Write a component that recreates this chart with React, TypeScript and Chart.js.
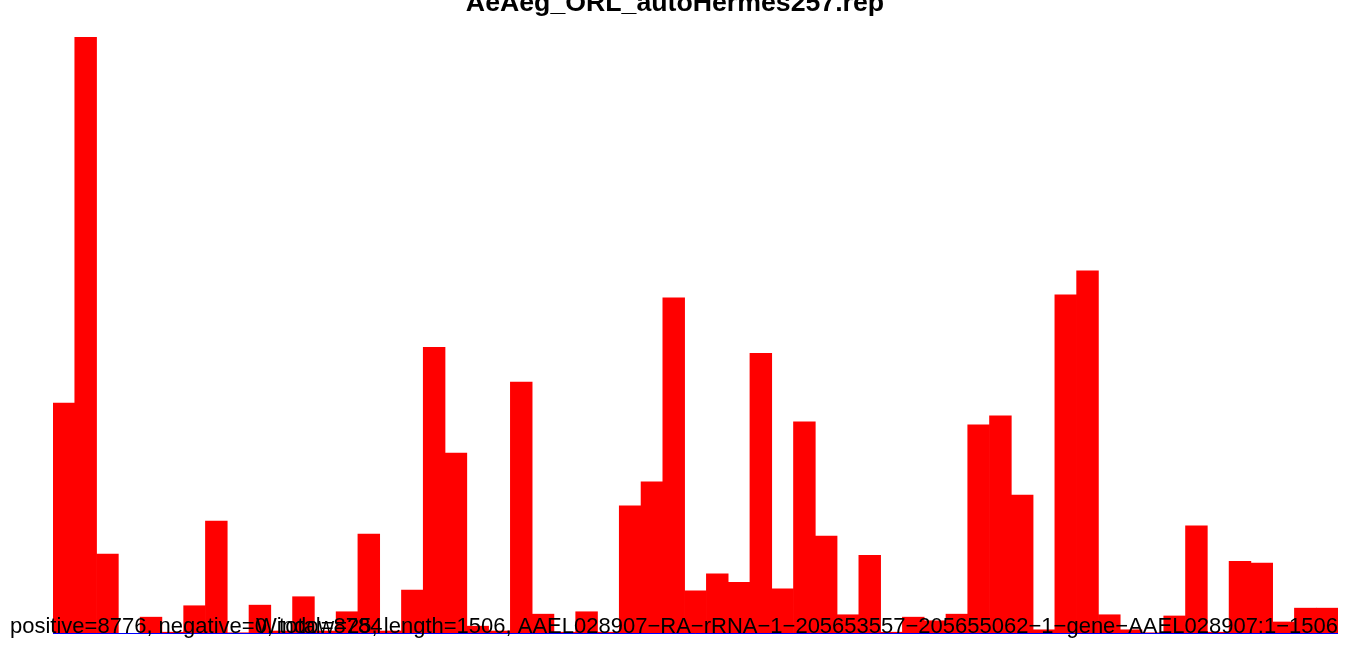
import React, { useEffect, useRef } from "react";
import { Chart, registerables } from "chart.js";

Chart.register(...registerables);

const titleText = "AeAeg_ORL_autoHermes257.rep";
const statsText = "positive=8776, negative=0, total=8784";
const infoText =
  "Window=25, length=1506, AAEL028907\u2212RA\u2212rRNA\u22121\u2212205653557\u2212205655062\u22121\u2212gene\u2212AAEL028907:1\u22121506";

// window index (one bar per window)
const windows: string[] = Array.from({ length: 59 }, (_, i) => String(i + 1));

// positive-strand counts per window
const positiveCounts: number[] = [
  384, 993, 133, 0, 28, 3, 47, 188, 2, 48,
  5, 62, 5, 37, 166, 5, 73, 477, 301, 13,
  5, 419, 33, 3, 37, 3, 213, 253, 559, 72,
  100, 86, 467, 75, 353, 163, 32, 131, 3, 28,
  22, 33, 348, 363, 231, 7, 564, 604, 32, 7,
  2, 30, 180, 3, 121, 118, 20, 43, 43,
];

// negative-strand counts (all zero)
const negativeCounts: number[] = windows.map(() => 0);

const FONT = "'Liberation Sans', Arial, Helvetica, sans-serif";

export default function App() {
  const ref = useRef<HTMLCanvasElement | null>(null);

  useEffect(() => {
    if (!ref.current) return;
    const textPlugin = {
      id: "textPlugin",
      afterDraw(chart: any) {
        const ctx = chart.ctx;
        const area = chart.chartArea;
        const y0 = chart.scales.y.getPixelForValue(0);
        ctx.save();
        // negative strand line at zero
        ctx.strokeStyle = "#0000FF";
        ctx.lineWidth = 1;
        ctx.beginPath();
        ctx.moveTo(area.left, y0 - 0.5);
        ctx.lineTo(area.right, y0 - 0.5);
        ctx.stroke();
        // title
        ctx.fillStyle = "#000000";
        ctx.font = `bold 26.7px ${FONT}`;
        ctx.textAlign = "center";
        ctx.textBaseline = "alphabetic";
        ctx.fillText(titleText, 675, 11);
        // bottom texts
        ctx.font = `22px ${FONT}`;
        ctx.textAlign = "left";
        ctx.fillText(statsText, 10, 633);
        ctx.textAlign = "right";
        ctx.fillText(infoText, 1338, 633);
        ctx.restore();
      },
    };

    const chart = new Chart(ref.current, {
      type: "bar",
      data: {
        labels: windows,
        datasets: [
          {
            label: "positive",
            data: positiveCounts,
            backgroundColor: "#FF0000",
            borderWidth: 0,
            barPercentage: 1,
            categoryPercentage: 1,
          },
          {
            label: "negative",
            data: negativeCounts,
            backgroundColor: "#0000FF",
            borderWidth: 0,
            barPercentage: 1,
            categoryPercentage: 1,
            hidden: true,
          },
        ],
      },
      options: {
        responsive: false,
        animation: false,
        layout: { padding: { left: 53, right: 17, top: 37, bottom: 12 } },
        plugins: {
          legend: { display: false },
          title: { display: false },
          tooltip: { enabled: false },
        },
        scales: {
          x: { display: false, stacked: true, grid: { display: false } },
          y: {
            display: false,
            min: 0,
            max: Math.max(...positiveCounts),
            grid: { display: false },
          },
        },
      },
      plugins: [textPlugin],
    });
    return () => chart.destroy();
  }, []);

  return (
    <div
      style={{
        position: "fixed",
        left: 0,
        top: 0,
        width: 1355,
        height: 646,
        background: "#ffffff",
      }}
    >
      <canvas ref={ref} width={1355} height={646} style={{ display: "block" }} />
    </div>
  );
}
